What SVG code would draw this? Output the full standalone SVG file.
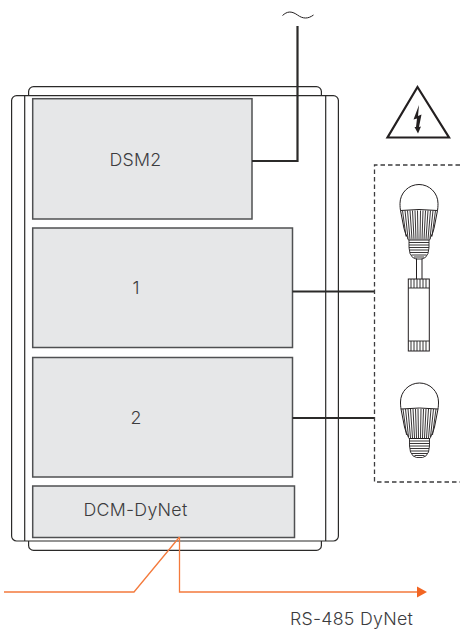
<svg xmlns="http://www.w3.org/2000/svg" width="460" height="630" viewBox="0 0 460 630">
<style>
.enc{fill:#fff;stroke:#2b2a29;stroke-width:1.2}
.mod{fill:#e6e7e8;stroke:#4f5052;stroke-width:1.5}
.lbl{font-family:"Inter","Liberation Sans",sans-serif;font-weight:300;font-size:17.800px;letter-spacing:.25px;fill:#3c3c3e;text-anchor:middle}
.wire{fill:none;stroke:#2b2a29;stroke-width:2.200}
.or{fill:none;stroke:#f47a3c;stroke-width:1.300}
.thin{fill:none;stroke:#231f20;stroke-width:.9}
.med{fill:none;stroke:#231f20;stroke-width:1}
</style>
<defs>
<marker id="arrow" markerUnits="userSpaceOnUse" markerWidth="10" markerHeight="12" refX="0" refY="6" orient="auto"><path d="M0 0.500L10 6L0 11.500Z" fill="#f26522"/></marker>
<g id="bulb">
<path class="med" d="M-18.500 7C-18.800 5 -19 3 -19 0A19 19 0 0 1 19 0C19 3 18.800 5 18.500 7"/>
<path class="med" d="M-18.500 7Q0 5 18.500 7"/>
<path class="thin" d="M-16.500 7L-13 33M-14 7L-11 35M-11.500 7L-9 36M-9 7L-7 36M-6.500 7L-5 36M-4 7L-3 36M-1.500 7L-1 36M1.500 7L1 36M4 7L3 36M6.500 7L5 36M9 7L7 36M11.500 7L9 36M14 7L11 35M16.500 7L13 33"/>
<path class="med" d="M-18.500 7L-15 25Q-13.500 31 -11.500 34Q-11 36 -10.500 36.500H10.500Q11 36 11.500 34Q13.500 31 15 25L18.500 7"/>
<path class="thin" d="M-10 36.500V44L-9 50Q-7 55 -3 55.500H3Q7 55 9 50L10 44V36.500M-10 39H10M-10 41.500H10M-10 44H10M-9.500 46.500H9.500M-9 49H9M-7.500 51.500H7.500M-5 53.500H5"/>
</g>
</defs>
<g id="enclosure">
<rect class="enc" x="28.600" y="86.600" width="292.800" height="463.800" rx="5"/>
<rect class="enc" x="11.600" y="95.600" width="326.800" height="445.400" rx="5"/>
<path class="enc" fill="none" d="M24.700 95.600V541M325.700 95.600V541"/>
</g>
<g id="dsm2"><rect class="mod" x="32.700" y="98.700" width="219.300" height="120.300"/><text class="lbl" x="135.500" y="165.500">DSM2</text></g>
<g id="module1"><rect class="mod" x="32.700" y="228" width="259.800" height="119.500"/><text class="lbl" x="136" y="293.500">1</text></g>
<g id="module2"><rect class="mod" x="32.700" y="357.500" width="259.800" height="119.500"/><text class="lbl" x="136" y="423.500">2</text></g>
<g id="dcm"><rect class="mod" x="32.700" y="486" width="261.800" height="51.500"/><text class="lbl" x="135.500" y="516">DCM-DyNet</text></g>
<g id="connectors">
<path class="wire" d="M252 161H297.500V26"/>
<path class="wire" d="M292.500 291.500H374"/>
<path class="wire" d="M292.500 418H374"/>
<path class="or" d="M4 592H134L179.500 537"/>
<path class="or" d="M179.500 537V592H417" marker-end="url(#arrow)"/>
</g>
<g id="mains"><path d="M282.500 15.500C287 11.500 291 10.500 297.500 15C303 19 308 19 313.500 15" fill="none" stroke="#231f20" stroke-width="1"/></g>
<g id="warning">
<path d="M417.500 87L387.500 137.500H449Z" fill="#fff" stroke="#231f20" stroke-width="2.200"/>
<path d="M419 105L413.500 119.500L417 118.500L416 127L414.500 127L418 133.500L421 126.500L419 127L421.500 114.500L418 116Z" fill="#231f20"/>
</g>
<g id="load">
<path d="M460 165H374.500V482H460" fill="none" stroke="#3c3c3e" stroke-width="1.300" stroke-dasharray="4.500 3"/>
</g>
<g id="lamp1"><use href="#bulb" x="419" y="203.500"/></g>
<g id="driver">
<path class="med" d="M416.500 258.500V279M422 258.500V279"/>
<rect x="408.300" y="279" width="21" height="72" fill="#fff" stroke="#231f20" stroke-width="1"/>
<path class="thin" d="M408.300 288H429.300M408.300 341H429.300M411 279V288M414 279V288M417 279V288M420 279V288M423 279V288M426 279V288M411 341V351M414 341V351M417 341V351M420 341V351M423 341V351M426 341V351"/>
</g>
<g id="lamp2"><use href="#bulb" x="419.500" y="402"/></g>
<g id="busLabel"><text class="lbl" x="351.500" y="625">RS-485 DyNet</text></g>
</svg>
